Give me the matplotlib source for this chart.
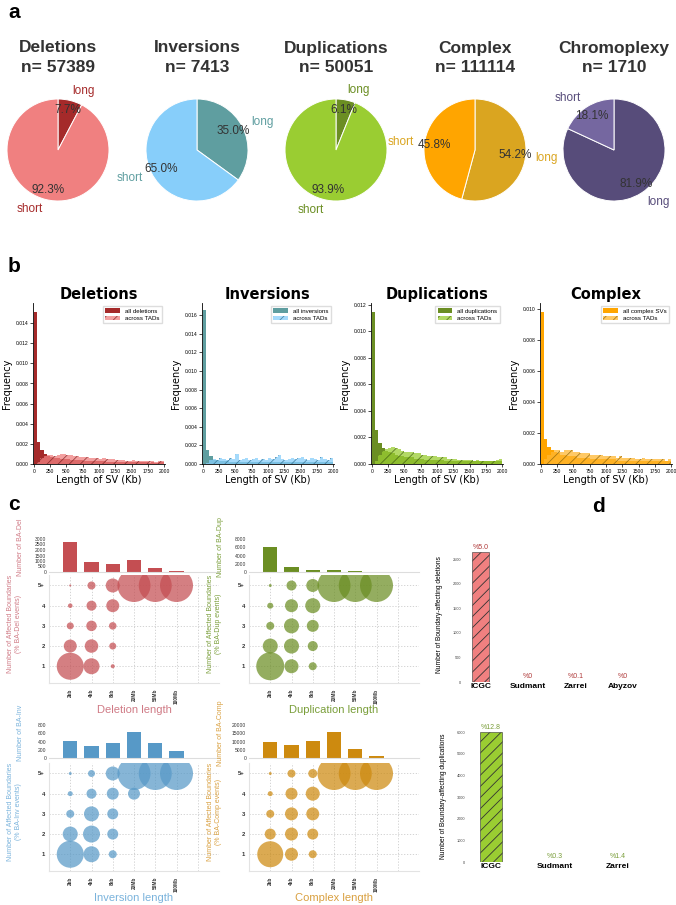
import matplotlib
matplotlib.use("Agg")
import matplotlib.pyplot as plt
import numpy as np

plt.rcParams['font.family'] = ['Liberation Sans', 'DejaVu Sans']
plt.rcParams['hatch.linewidth'] = 0.6

W, H = 676, 905
fig = plt.figure(figsize=(W / 100, H / 100), dpi=100)


def px_axes(l, t, w, h):
    # axes placed by pixel box (left, top, width, height)
    return fig.add_axes([l / W, 1 - (t + h) / H, w / W, h / H])


# ---------------- data ----------------
# panel a
pie_titles = ['Deletions', 'Inversions', 'Duplications', 'Complex', 'Chromoplexy']
pie_n = [57389, 7413, 50051, 111114, 1710]
pie_long = [7.7, 35.0, 6.1, 54.2, 81.9]
pie_short = [92.3, 65.0, 93.9, 45.8, 18.1]
pie_long_col = ['#a52a2a', '#5f9ea0', '#6b8e23', '#daa520', '#574c7a']
pie_short_col = ['#f08080', '#87cefa', '#9acd32', '#ffa500', '#7567a0']
pie_text_col = ['#a52a2a', '#5f9ea0', '#6b8e23', '#daa520', '#574c7a']

# panel b (bin width 50 Kb, 0-2000)
hist_titles = ['Deletions', 'Inversions', 'Duplications', 'Complex']
hist_all_labels = ['all deletions', 'all inversions', 'all duplications', 'all complex SVs']
del_all = [0.0151, 0.0022, 0.0014, 0.0010, 0.0008, 0.0007, 0.0006, 0.0006, 0.0005, 0.0005,
           0.0005, 0.0004, 0.0004, 0.0004, 0.0004, 0.0003, 0.0003, 0.0003, 0.0003, 0.0003,
           0.0003, 0.0003, 0.0002, 0.0002, 0.0002, 0.0002, 0.0002, 0.0002, 0.0002, 0.0002,
           0.0002, 0.0002, 0.0002, 0.0002, 0.0002, 0.0001, 0.0002, 0.0001, 0.0002, 0.0002]
del_tad = [0.0, 0.0002, 0.0006, 0.0008, 0.0009, 0.0009, 0.0008, 0.0009, 0.0010, 0.0010,
           0.0009, 0.0009, 0.0008, 0.0008, 0.0007, 0.0007, 0.0007, 0.0006, 0.0006, 0.0006,
           0.0005, 0.0006, 0.0005, 0.0005, 0.0005, 0.0004, 0.0004, 0.0004, 0.0003, 0.0003,
           0.0004, 0.0003, 0.0003, 0.0003, 0.0003, 0.0003, 0.0003, 0.0002, 0.0003, 0.0003]
inv_all = [0.0165, 0.0015, 0.0009, 0.0004, 0.0004, 0.0003, 0.0003, 0.0003, 0.0002, 0.0002,
           0.0002, 0.0002, 0.0002, 0.0002, 0.0002, 0.0002, 0.0002, 0.0002, 0.0002, 0.0002,
           0.0002, 0.0002, 0.0002, 0.0002, 0.0002, 0.0002, 0.0002, 0.0002, 0.0002, 0.0002,
           0.0002, 0.0002, 0.0002, 0.0002, 0.0002, 0.0002, 0.0002, 0.0002, 0.0002, 0.0002]
inv_tad = [0.0, 0.0001, 0.0004, 0.0005, 0.0004, 0.0006, 0.0005, 0.0004, 0.0006, 0.0005,
           0.0011, 0.0004, 0.0005, 0.0006, 0.0004, 0.0005, 0.0006, 0.0004, 0.0005, 0.0004,
           0.0006, 0.0005, 0.0008, 0.0010, 0.0005, 0.0004, 0.0005, 0.0006, 0.0005, 0.0006,
           0.0007, 0.0005, 0.0004, 0.0006, 0.0005, 0.0004, 0.0007, 0.0005, 0.0004, 0.0006]
dup_all = [0.0115, 0.0026, 0.0016, 0.0012, 0.0010, 0.0009, 0.0008, 0.0007, 0.0006, 0.0006,
           0.0005, 0.0005, 0.0005, 0.0004, 0.0004, 0.0004, 0.0003, 0.0003, 0.0003, 0.0003,
           0.0003, 0.0003, 0.0002, 0.0002, 0.0002, 0.0002, 0.0002, 0.0002, 0.0002, 0.0002,
           0.0002, 0.0002, 0.0002, 0.0002, 0.0002, 0.0002, 0.0002, 0.0002, 0.0002, 0.0002]
dup_tad = [0.0, 0.0002, 0.0007, 0.0010, 0.0011, 0.0012, 0.0013, 0.0012, 0.0011, 0.0010,
           0.0009, 0.0009, 0.0009, 0.0008, 0.0008, 0.0007, 0.0007, 0.0006, 0.0006, 0.0006,
           0.0005, 0.0005, 0.0005, 0.0004, 0.0004, 0.0004, 0.0003, 0.0003, 0.0003, 0.0003,
           0.0003, 0.0002, 0.0003, 0.0002, 0.0002, 0.0002, 0.0002, 0.0002, 0.0003, 0.0004]
cpx_all = [0.0098, 0.0016, 0.0011, 0.0009, 0.0008, 0.0007, 0.0006, 0.0006, 0.0005, 0.0005,
           0.0005, 0.0004, 0.0004, 0.0004, 0.0004, 0.0003, 0.0003, 0.0003, 0.0003, 0.0003,
           0.0003, 0.0003, 0.0003, 0.0002, 0.0002, 0.0002, 0.0002, 0.0002, 0.0002, 0.0002,
           0.0002, 0.0002, 0.0002, 0.0002, 0.0002, 0.0002, 0.0002, 0.0002, 0.0002, 0.0002]
cpx_tad = [0.0, 0.0003, 0.0006, 0.0008, 0.0009, 0.0009, 0.0008, 0.0009, 0.0009, 0.0009,
           0.0008, 0.0008, 0.0007, 0.0007, 0.0007, 0.0006, 0.0006, 0.0006, 0.0006, 0.0005,
           0.0005, 0.0005, 0.0005, 0.0004, 0.0005, 0.0004, 0.0004, 0.0004, 0.0004, 0.0003,
           0.0003, 0.0004, 0.0003, 0.0003, 0.0003, 0.0003, 0.0003, 0.0003, 0.0002, 0.0003]
hist_all = [del_all, inv_all, dup_all, cpx_all]
hist_tad = [del_tad, inv_tad, dup_tad, cpx_tad]
hist_dark = ['#a52a2a', '#5f9ea0', '#6b8e23', '#ffa500']
hist_light = ['#f08080', '#87cefa', '#9acd32', '#ffb732']
hist_hatch = ['#7a1f1f', '#2f6f8f', '#3d5a10', '#8a6408']
hist_yticks_max = [0.014, 0.016, 0.012, 0.010]
hist_ylim = [0.0160, 0.0173, 0.01215, 0.0104]

# panel c
len_labels = ['2kb', '4kb', '8kb', '20Mb', '50Mb', '100Mb']
level_labels = ['1', '2', '3', '4', '5+']
ba_del = [2700, 950, 750, 1050, 350, 80]
ba_dup = [6000, 1100, 600, 400, 200, 80]
ba_inv = [420, 280, 370, 630, 370, 170]
ba_cmp = [9800, 8000, 10500, 16000, 5500, 1500]
# % of events per length class (rows) at 1,2,3,4,5+ boundaries
pct_del = [[67, 15.5, 4.5, 1.9, 0.4], [23.5, 16.7, 10.1, 9.2, 5.9], [1.5, 4.5, 5.2, 15.5, 18],
           [0, 0, 0, 0, 100], [0, 0, 0, 0, 100], [0, 0, 0, 0, 100]]
pct_dup = [[72, 20.7, 5.9, 3.3, 0.8], [18, 20.7, 20.7, 15.5, 9.2], [5.9, 9.2, 13.2, 20.7, 15.5],
           [0, 0, 0, 0, 100], [0, 0, 0, 0, 100], [0, 0, 0, 0, 100]]
pct_inv = [[67, 20.7, 5.9, 2.3, 0.8], [23.5, 26.5, 20.7, 9.2, 4.5], [5.9, 11.1, 11.1, 13.2, 18],
           [0, 0, 0, 13.2, 100], [0, 0, 0, 0, 100], [0, 0, 0, 0, 100]]
pct_cmp = [[62, 11.1, 5.9, 2.3, 0.8], [15.5, 15.5, 15.5, 13.2, 5.9], [5.9, 11.1, 15.5, 18, 7.4],
           [0, 0, 0, 0, 100], [0, 0, 0, 0, 100], [0, 0, 0, 0, 100]]

# panel d
d_top_names = ['ICGC', 'Sudmant', 'Zarrei', 'Abyzov']
d_top_vals = [2640, 5, 9, 4]
d_top_pct = ['%5.0', '%0', '%0.1', '%0']
d_bot_names = ['ICGC', 'Sudmant', 'Zarrei']
d_bot_vals = [5990, 15, 12]
d_bot_pct = ['%12.8', '%0.3', '%1.4']

# ---------------- panel labels ----------------
for lab, x, y in [('a', 8, 12), ('b', 8, 266), ('c', 8, 504), ('d', 592, 506)]:
    fig.text(x / W, 1 - y / H, lab, fontsize=15, fontweight='bold', va='center', ha='left')

# ---------------- panel a: pies ----------------
pie_cx = [58, 197, 336, 475, 614]
pie_cy, pie_r = 150, 51
for i in range(5):
    ax = px_axes(pie_cx[i] - pie_r, pie_cy - pie_r, 2 * pie_r, 2 * pie_r)
    wedges, texts, autot = ax.pie([pie_long[i], pie_short[i]], labels=['long', 'short'],
                                  colors=[pie_long_col[i], pie_short_col[i]], startangle=90,
                                  counterclock=False, autopct='%1.1f%%', pctdistance=0.8,
                                  labeldistance=1.2,
                                  wedgeprops=dict(edgecolor='white', linewidth=0.7))
    for t in texts:
        t.set_color(pie_text_col[i])
        t.set_fontsize(8.5)
    for t in autot:
        t.set_color('#333333')
        t.set_fontsize(8.5)
    ax.set_xlim(-1, 1)
    ax.set_ylim(-1, 1)
    fig.text(pie_cx[i] / W, 1 - 48 / H, pie_titles[i], ha='center', va='center',
             fontsize=12.5, fontweight='bold', color='#333333')
    fig.text(pie_cx[i] / W, 1 - 67 / H, 'n= %d' % pie_n[i], ha='center', va='center',
             fontsize=12.5, fontweight='bold', color='#333333')

# ---------------- panel b: histograms ----------------
edges = np.arange(0, 2001, 50)
hist_left = [33, 202, 371, 540]
for i in range(4):
    ax = px_axes(hist_left[i], 303, 132, 161)
    ax.bar(edges[:-1], hist_all[i], width=50, align='edge', color=hist_dark[i],
           label=hist_all_labels[i], linewidth=0)
    ax.bar(edges[:-1], hist_tad[i], width=50, align='edge', color=hist_light[i],
           edgecolor=hist_hatch[i], hatch='///', alpha=0.75, linewidth=0, label='across TADs')
    ax.set_xlim(-15, 2015)
    ax.set_ylim(0, hist_ylim[i])
    ax.set_xticks(np.arange(0, 2001, 250))
    ax.set_yticks(np.arange(0, hist_yticks_max[i] + 1e-9, 0.002))
    ax.yaxis.set_major_formatter(matplotlib.ticker.FormatStrFormatter('%.3f'))
    ax.tick_params(labelsize=3.6, length=2, width=0.5, pad=1.5)
    for s in ['top', 'right']:
        ax.spines[s].set_visible(False)
    for s in ['left', 'bottom']:
        ax.spines[s].set_linewidth(0.6)
    ax.set_title(hist_titles[i], fontsize=10.5, fontweight='bold', family='DejaVu Sans', pad=3)
    ax.set_xlabel('Length of SV (Kb)', fontsize=7, family='DejaVu Sans', labelpad=1)
    ax.set_ylabel('Frequency', fontsize=7, family='DejaVu Sans', labelpad=2)
    ax.legend(loc='upper right', fontsize=4.4, handlelength=2.4, borderpad=0.4,
              labelspacing=0.3, framealpha=1, edgecolor='#dddddd', fancybox=False)

# ---------------- panel c: bubbles ----------------
panels_c = [
    (49, 539, 575, ba_del, 3000, 500, pct_del, '#c44e52', '#d07b86', 'Deletion length', 'Del'),
    (249, 539, 575, ba_dup, 8000, 2000, pct_dup, '#6b8e23', '#7a9e3a', 'Duplication length', 'Dup'),
    (49, 725, 763, ba_inv, 800, 200, pct_inv, '#5799c7', '#7ab3dc', 'Inversion length', 'Inv'),
    (249, 725, 763, ba_cmp, 20000, 5000, pct_cmp, '#cd8a0f', '#d9a040', 'Complex length', 'Comp'),
]
for left, bar_top, bub_top, bars, ymax, ystep, pct, col, lcol, xlab, short in panels_c:
    axb = px_axes(left, bar_top, 170, 33)
    axb.bar(range(len(bars)), bars, width=0.66, color=col, linewidth=0)
    axb.set_xlim(-1, 7)
    axb.set_ylim(0, ymax)
    axb.set_yticks(np.arange(0, ymax + 1, ystep))
    axb.set_xticks([])
    axb.tick_params(labelsize=3.6, length=0, pad=2, colors='#333333')
    for s in ['top', 'right', 'left']:
        axb.spines[s].set_visible(False)
    axb.spines['bottom'].set_color('#dddddd')
    axb.spines['bottom'].set_linewidth(0.8)
    axb.set_ylabel('Number of BA-' + short, fontsize=5, color=lcol)
    axb.yaxis.set_label_coords(-0.15, 0.75)

    ax = px_axes(left, bub_top, 170, 108)
    xs, ys, ss = [], [], []
    for j in range(len(pct)):
        for k in range(5):
            if pct[j][k] > 0:
                xs.append(j)
                ys.append(k + 1)
                ss.append(pct[j][k] * 5.65)
    ax.set_axisbelow(True)
    ax.scatter(xs, ys, s=ss, color=col, alpha=0.72, linewidth=0)
    ax.set_xlim(-1, 7)
    ax.set_ylim(0.17, 5.52)
    ax.set_xticks(range(7))
    ax.set_xticklabels(len_labels + [''], rotation=90, fontsize=3.4, fontweight='bold',
                       color='#333333')
    ax.set_yticks(range(1, 6))
    ax.set_yticklabels(level_labels, fontsize=4.2, fontweight='bold', color='#333333')
    ax.tick_params(axis='y', length=0, pad=3)
    ax.tick_params(axis='x', length=0, pad=4)
    ax.grid(True, linestyle=(0, (1.5, 2)), color='#cccccc', linewidth=0.6)
    for s in ['top', 'right']:
        ax.spines[s].set_visible(False)
    for s in ['left', 'bottom']:
        ax.spines[s].set_color('#e3e3e3')
        ax.spines[s].set_linewidth(0.8)
    ax.set_ylabel('Number of Affected Boundaries\n(% BA-' + short + ' events)', fontsize=5,
                  color=lcol, linespacing=1.1)
    ax.yaxis.set_label_coords(-0.16, 0.55)
    ax.set_xlabel(xlab, fontsize=8, color=lcol, labelpad=1)


# ---------------- panel d ----------------
def draw_d(rect, names, vals, labels, xr, ymax, ystep, face, tcol, ylab):
    ax = px_axes(*rect)
    x = np.arange(len(names))
    ax.bar(x, vals, width=0.35, color=face, edgecolor='#333333', hatch='///', linewidth=0.4)
    for xi, v, lab in zip(x, vals, labels):
        ax.text(xi, v + ymax * 0.012, lab, ha='center', va='bottom', fontsize=5, color=tcol)
    ax.set_xlim(*xr)
    ax.set_ylim(0, ymax)
    ax.set_xticks(x)
    ax.set_xticklabels(names, fontsize=6, fontweight='bold')
    ax.set_yticks(np.arange(0, ymax, ystep))
    ax.tick_params(axis='y', labelsize=2.8, length=0, pad=5, colors='#444444')
    ax.tick_params(axis='x', length=0, pad=1)
    for s in ax.spines.values():
        s.set_visible(False)
    ax.set_ylabel(ylab, fontsize=4.8)
    ax.yaxis.set_label_coords(-0.15, 0.5)


draw_d((468, 547, 169, 135), d_top_names, d_top_vals, d_top_pct, (-0.27, 3.3), 2750, 500,
       '#f08080', '#b03a3a', 'Number of Boundary-affecting deletions')
draw_d((472, 730, 165, 132), d_bot_names, d_bot_vals, d_bot_pct, (-0.3, 2.3), 6100, 1000,
       '#9acd32', '#7a9e3a', 'Number of Boundary-affecting duplications')

fig.savefig('out.png', dpi=100)
